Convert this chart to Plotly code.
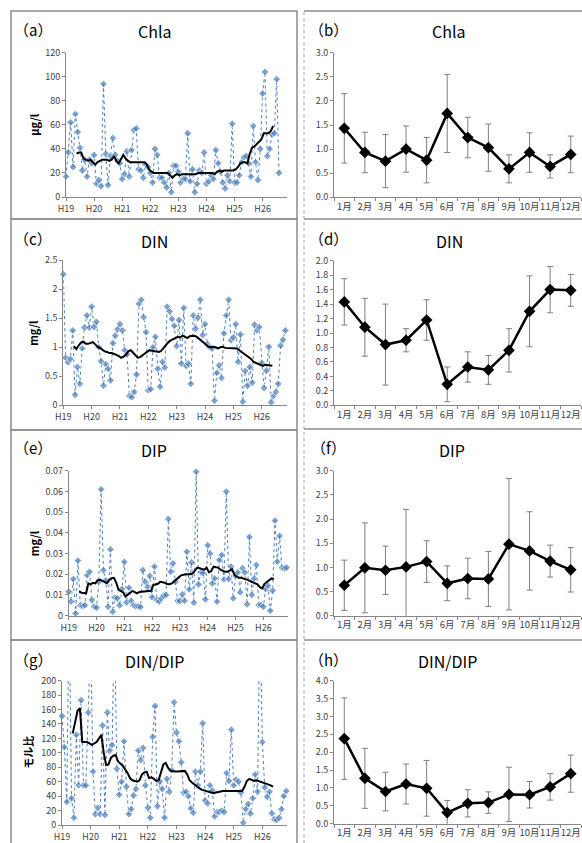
import plotly.graph_objects as go

W, H = 582, 843
FONT = "Noto Sans CJK JP"

# ---------------- data ----------------
year_labels = ["H19", "H20", "H21", "H22", "H23", "H24", "H25", "H26"]
month_labels = ["1月", "2月", "3月", "4月", "5月", "6月", "7月", "8月", "9月", "10月", "11月", "12月"]

chla = [17, 37, 62, 25, 69, 54, 41, 22, 31, 17, 31, 28, 35, 11, 14, 9, 94, 36, 10, 34,
        49, 35, 30, 28, 15, 19, 38, 17, 39, 56, 57, 23, 22, 16, 27, 25, 20, 12, 40, 35,
        16, 16, 12, 8, 20, 4, 26, 26, 21, 12, 15, 15, 53, 13, 23, 4, 11, 22, 20, 37,
        11, 13, 18, 15, 39, 28, 21, 12, 7, 18, 13, 61, 12, 12, 18, 29, 33, 34, 28, 17,
        59, 29, 14, 40, 86, 104, 34, 40, 52, 53, 98, 20]
chla_ma = [36, 37, 37, 32, 31, 30, 31, 29, 27, 29, 30, 31, 31, 31, 30, 31, 34, 30, 28, 31,
           35, 32, 30, 29, 29, 29, 29, 29, 29, 29, 27, 23, 21, 20, 20, 20, 20, 20, 20, 20,
           18, 16, 18, 19, 18, 19, 19, 19, 19, 19, 19, 19, 20, 20, 20, 20, 20, 20, 20, 19,
           21, 22, 21, 22, 22, 22, 22, 22, 23, 25, 28, 29, 29, 28, 36, 41, 42, 44, 46, 48,
           53, 53, 53, 55, 59]

din = [2.26, 0.82, 0.74, 0.80, 1.29, 0.18, 0.66, 0.37, 0.98, 1.34,
       1.55, 1.34, 1.70, 1.35, 1.44, 1.00, 0.76, 0.34, 0.71, 0.63,
       0.43, 1.07, 1.20, 1.31, 1.40, 1.29, 0.95, 0.88, 0.16, 0.14,
       0.23, 0.53, 1.75, 1.82, 1.52, 1.26, 0.26, 0.28, 1.00, 1.18,
       0.63, 0.32, 0.75, 0.65, 1.70, 1.62, 1.49, 1.37, 1.02, 1.47,
       0.72, 1.68, 0.68, 0.72, 0.37, 1.55, 1.32, 1.51, 1.82, 1.21,
       1.40, 1.06, 1.00, 0.98, 0.08, 0.56, 0.69, 0.47, 1.24, 1.55,
       1.82, 1.12, 1.17, 1.40, 0.75, 1.22, 0.06, 0.59, 0.34, 0.66,
       0.39, 1.39, 1.29, 1.35, 0.73, 0.30, 0.60, 1.01, 0.05, 0.16,
       0.23, 0.37, 1.03, 1.13, 1.29]
din_ma = [1.02, 0.97, 1.03, 1.08, 1.10, 1.06, 1.06, 1.07, 1.09, 1.05,
          1.01, 0.99, 0.96, 0.93, 0.92, 0.90, 0.90, 0.89, 0.87, 0.85,
          0.82, 0.84, 0.87, 0.93, 0.95, 0.91, 0.86, 0.82, 0.83, 0.86,
          0.89, 0.92, 0.95, 0.94, 0.93, 0.93, 0.92, 0.94, 0.99, 1.06,
          1.09, 1.12, 1.14, 1.17, 1.18, 1.17, 1.20, 1.18, 1.16, 1.19,
          1.20, 1.20, 1.18, 1.15, 1.12, 1.08, 1.04, 1.01, 1.00, 1.01,
          1.00, 0.98, 1.00, 1.01, 0.99, 0.99, 0.99, 0.99, 0.98, 0.98,
          0.95, 0.92, 0.89, 0.86, 0.83, 0.80, 0.75, 0.73, 0.72, 0.70,
          0.68, 0.70, 0.69, 0.68, 0.68]

dip = [0.0116, 0.0068, 0.0177, 0.0011, 0.0266, 0.0050, 0.0047, 0.0050, 0.0196, 0.0212,
       0.0076, 0.0043, 0.0039, 0.0164, 0.0610, 0.0220, 0.0170, 0.0043, 0.0320, 0.0019,
       0.0087, 0.0084, 0.0050, 0.0129, 0.0260, 0.0064, 0.0135, 0.0071, 0.0050, 0.0045,
       0.0045, 0.0042, 0.0220, 0.0164, 0.0138, 0.0192, 0.0089, 0.0237, 0.0076, 0.0068,
       0.0084, 0.0097, 0.0100, 0.0467, 0.0212, 0.0253, 0.0164, 0.0071, 0.0071, 0.0103,
       0.0072, 0.0309, 0.0127, 0.0257, 0.0063, 0.0695, 0.0151, 0.0209, 0.0206, 0.0079,
       0.0340, 0.0300, 0.0156, 0.0180, 0.0068, 0.0269, 0.0293, 0.0175, 0.0599, 0.0177,
       0.0237, 0.0084, 0.0192, 0.0209, 0.0113, 0.0229, 0.0209, 0.0055, 0.0380, 0.0100,
       0.0180, 0.0245, 0.0051, 0.0051, 0.0043, 0.0129, 0.0145, 0.0024, 0.0121, 0.0459,
       0.0261, 0.0385, 0.0232, 0.0229, 0.0232]
dip_ma = [0.0118, 0.0111, 0.0109, 0.0108, 0.0156, 0.0151, 0.0159, 0.0156, 0.0172, 0.0174,
          0.0168, 0.0162, 0.0157, 0.0172, 0.0181, 0.0183, 0.0160, 0.0125, 0.0117, 0.0113,
          0.0092, 0.0100, 0.0110, 0.0120, 0.0114, 0.0108, 0.0115, 0.0116, 0.0116, 0.0116,
          0.0116, 0.0120, 0.0148, 0.0150, 0.0154, 0.0164, 0.0162, 0.0159, 0.0153, 0.0152,
          0.0156, 0.0165, 0.0172, 0.0185, 0.0195, 0.0199, 0.0200, 0.0200, 0.0200, 0.0204,
          0.0218, 0.0232, 0.0229, 0.0224, 0.0222, 0.0232, 0.0210, 0.0215, 0.0237, 0.0234,
          0.0232, 0.0222, 0.0215, 0.0212, 0.0212, 0.0218, 0.0225, 0.0198, 0.0188, 0.0183,
          0.0183, 0.0179, 0.0176, 0.0172, 0.0166, 0.0160, 0.0156, 0.0151, 0.0138, 0.0132,
          0.0154, 0.0163, 0.0172, 0.0180, 0.0177]

ratio = [151, 108, 32, 300, 37, 10, 125, 55, 173, 55,
         55, 156, 260, 74, 15, 24, 15, 138, 14, 156,
         103, 111, 280, 78, 42, 60, 116, 53, 15, 22,
         41, 50, 103, 90, 107, 55, 24, 10, 122, 165,
         26, 60, 50, 10, 64, 46, 76, 170, 128, 116,
         87, 45, 46, 40, 23, 17, 74, 55, 74, 141,
         34, 30, 55, 48, 12, 18, 18, 20, 18, 72,
         61, 132, 55, 63, 60, 45, 3, 22, 29, 16,
         37, 70, 46, 300, 115, 52, 39, 46, 16, 8,
         7, 10, 22, 40, 47]
ratio_ma = [127, 145, 158, 162, 115, 115, 115, 113, 111, 113,
            115, 120, 125, 100, 83, 84, 93, 96, 97, 88,
            85, 82, 77, 72, 65, 62, 61, 60, 62, 70,
            73, 74, 65, 66, 64, 61, 62, 74, 84, 86,
            79, 75, 74, 74, 74, 74, 74, 75, 70, 62,
            59, 56, 53, 51, 49, 48, 47, 46, 45, 44,
            45, 46, 47, 47, 47, 47, 47, 47, 48, 48,
            48, 47, 53, 61, 64, 62, 61, 62, 61, 60,
            59, 57, 56, 55, 53]

# monthly normalized means and standard deviations
chla_m = [1.43, 0.93, 0.75, 1.00, 0.77, 1.74, 1.24, 1.03, 0.59, 0.93, 0.64, 0.89]
chla_sd = [0.72, 0.42, 0.55, 0.48, 0.47, 0.81, 0.42, 0.49, 0.29, 0.41, 0.24, 0.38]
din_m = [1.43, 1.08, 0.84, 0.90, 1.18, 0.29, 0.53, 0.49, 0.76, 1.30, 1.60, 1.59]
din_sd = [0.32, 0.40, 0.56, 0.16, 0.28, 0.24, 0.21, 0.20, 0.30, 0.49, 0.32, 0.22]
dip_m = [0.63, 0.99, 0.94, 1.01, 1.12, 0.67, 0.77, 0.76, 1.48, 1.34, 1.13, 0.95]
dip_sd = [0.52, 0.93, 0.50, 1.19, 0.43, 0.36, 0.42, 0.57, 1.36, 0.81, 0.33, 0.46]
ratio_m = [2.38, 1.27, 0.90, 1.11, 0.99, 0.31, 0.57, 0.59, 0.82, 0.81, 1.03, 1.40]
ratio_sd = [1.14, 0.84, 0.54, 0.56, 0.78, 0.34, 0.38, 0.30, 0.76, 0.37, 0.37, 0.52]

# ---------------- layout helpers ----------------
def fx(p):
    return p / W


def fy(p):
    return 1 - p / H


BLUE = "#4a7ebb"
AX = "#868686"
TICK = "#404040"
XMAX = 94.5
MA_START = 4.5

fig = go.Figure()
layout = dict(
    width=W, height=H, margin=dict(l=0, r=0, t=0, b=0, autoexpand=False),
    paper_bgcolor="white", plot_bgcolor="white", showlegend=False,
    font=dict(family=FONT, size=9, color=TICK),
)

left_panels = [
    dict(n=1, lab="（a）", title="Chla", yt="μg/l", v=chla, ma=chla_ma, yr=[0, 120], dt=20,
         xd=(66, 287.2), yd=(52.7, 197), lab_y=29, yt_x=34),
    dict(n=3, lab="（c）", title="DIN", yt="mg/l", v=din, ma=din_ma, yr=[0, 2.5], dt=0.5,
         xd=(63.3, 286.5), yd=(260.3, 405.3), lab_y=239, yt_x=33),
    dict(n=5, lab="（e）", title="DIP", yt="mg/l", v=dip, ma=dip_ma, yr=[0, 0.07], dt=0.01,
         xd=(68.7, 287.7), yd=(470.7, 615.7), lab_y=448, yt_x=34),
    dict(n=7, lab="（g）", title="DIN/DIP", yt="モル比", v=ratio, ma=ratio_ma, yr=[0, 200], dt=20,
         xd=(62, 287.4), yd=(680.7, 825), lab_y=659, yt_x=28),
]

right_panels = [
    dict(n=2, lab="（b）", title="Chla", m=chla_m, sd=chla_sd, yr=[0, 3], dt=0.5,
         yd=(52.7, 197.3), lab_y=29, tx=448),
    dict(n=4, lab="（d）", title="DIN", m=din_m, sd=din_sd, yr=[0, 2], dt=0.2,
         yd=(260.7, 405.3), lab_y=239, tx=449),
    dict(n=6, lab="（f）", title="DIP", m=dip_m, sd=dip_sd, yr=[0, 3], dt=0.5,
         yd=(470.7, 615.7), lab_y=448, tx=452),
    dict(n=8, lab="（h）", title="DIN/DIP", m=ratio_m, sd=ratio_sd, yr=[0, 4], dt=0.5,
         yd=(680.7, 823.7), lab_y=659, tx=447),
]

annotations = []
shapes = []


def add_text(text, x, y, size, angle=0, color="black"):
    annotations.append(dict(text=text, x=fx(x), y=fy(y), xref="paper", yref="paper",
                            xanchor="center", yanchor="middle", showarrow=False,
                            textangle=angle, font=dict(size=size, color=color, family=FONT)))


for p in left_panels:
    n = p["n"]
    xa, ya = f"x{n}", f"y{n}"
    idx = list(range(len(p["v"])))
    sizes = [6 if val <= p["yr"][1] else 0 for val in p["v"]]
    fig.add_trace(go.Scatter(
        x=idx, y=p["v"], xaxis=xa, yaxis=ya, mode="lines+markers",
        line=dict(color=BLUE, width=1, dash="dot"),
        marker=dict(symbol="diamond", size=sizes, color=BLUE),
        cliponaxis=False, hoverinfo="skip"))
    fig.add_trace(go.Scatter(
        x=[MA_START + i for i in range(len(p["ma"]))], y=p["ma"], xaxis=xa, yaxis=ya,
        mode="lines", line=dict(color="black", width=2), hoverinfo="skip"))
    layout[f"xaxis{n}"] = dict(
        domain=[fx(p["xd"][0]), fx(p["xd"][1])], anchor=ya, range=[0, XMAX],
        tickmode="array", tickvals=[12 * i for i in range(len(year_labels))],
        ticktext=year_labels, ticks="outside", ticklen=3, tickcolor=AX, tickangle=0,
        showline=True, linecolor=AX, linewidth=1, showgrid=False, zeroline=False,
        tickfont=dict(size=9, color=TICK, family=FONT))
    layout[f"yaxis{n}"] = dict(
        domain=[fy(p["yd"][1]), fy(p["yd"][0])], anchor=xa, range=p["yr"],
        dtick=p["dt"], tick0=0, ticks="outside", ticklen=3, tickcolor=AX,
        showline=True, linecolor=AX, linewidth=1, showgrid=False, zeroline=False,
        tickfont=dict(size=9, color=TICK, family=FONT))
    add_text(p["lab"], 33, p["lab_y"], 15)
    add_text(p["title"], 154, p["lab_y"] + 2, 16)
    ymid = (p["yd"][0] + p["yd"][1]) / 2
    add_text(f"<b>{p['yt']}</b>", p["yt_x"], ymid, 11, angle=-90)

for p in right_panels:
    n = p["n"]
    xa, ya = f"x{n}", f"y{n}"
    fig.add_trace(go.Scatter(
        x=month_labels, y=p["m"], xaxis=xa, yaxis=ya, mode="lines+markers",
        line=dict(color="black", width=2.5),
        marker=dict(symbol="diamond", size=9, color="black"),
        error_y=dict(type="data", array=p["sd"], visible=True, color="#7f7f7f",
                     thickness=1, width=3),
        cliponaxis=False, hoverinfo="skip"))
    layout[f"xaxis{n}"] = dict(
        domain=[fx(334), fx(581)], anchor=ya, type="category", range=[-0.5, 11.5],
        tickson="boundaries", ticks="outside", ticklen=3, tickcolor=AX, tickangle=0,
        showline=True, linecolor=AX, linewidth=1, showgrid=False, zeroline=False,
        tickfont=dict(size=9.5, color=TICK, family=FONT))
    layout[f"yaxis{n}"] = dict(
        domain=[fy(p["yd"][1]), fy(p["yd"][0])], anchor=xa, range=p["yr"],
        dtick=p["dt"], tick0=0, tickformat=".1f", ticks="outside", ticklen=3, tickcolor=AX,
        showline=True, linecolor=AX, linewidth=1, showgrid=False, zeroline=False,
        tickfont=dict(size=9, color=TICK, family=FONT))
    add_text(p["lab"], 328, p["lab_y"], 15)
    add_text(p["title"], p["tx"], p["lab_y"] + 2, 16)

# panel frames
BOX = "#8c8c8c"
for y0, y1 in [(11, 219), (219, 430), (430, 640), (640, 846)]:
    shapes.append(dict(type="rect", xref="paper", yref="paper", x0=fx(11), x1=fx(297),
                       y0=fy(y1), y1=fy(y0), line=dict(color=BOX, width=1.5)))
for yy in [11, 219, 429, 640]:
    shapes.append(dict(type="line", xref="paper", yref="paper", x0=fx(304), x1=1,
                       y0=fy(yy), y1=fy(yy), line=dict(color=BOX, width=1.5)))
shapes.append(dict(type="line", xref="paper", yref="paper", x0=fx(304), x1=fx(304),
                   y0=0, y1=fy(11), line=dict(color="#a0a0a0", width=1, dash="dot")))

layout["annotations"] = annotations
layout["shapes"] = shapes
fig.update_layout(**layout)
fig.write_html("out.html", config={"displayModeBar": False},
               post_script="document.body.style.margin='0px';document.body.style.overflow='hidden';")
